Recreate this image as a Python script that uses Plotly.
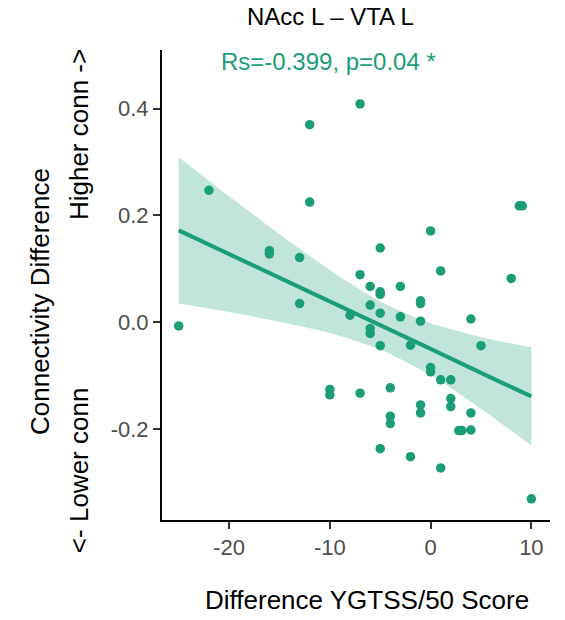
import plotly.graph_objects as go

# difference in YGTSS/50 score vs connectivity difference (NAcc L - VTA L)
ygtss_diff = [
    -25, -22, -16, -16, -13, -13, -12, -12, -10, -10,
    -8, -7, -7, -7, -6, -6, -6, -6, -5, -5,
    -5, -5, -5, -5, -4, -4, -4, -3, -3, -2,
    -2, -1, -1, -1, -1, -1, 0, 0, 0, 1,
    1, 1, 2, 2, 2, 2.8, 3.1, 4, 4, 4,
    5, 8, 8.8, 9.1, 10,
]
conn_diff = [
    -0.007, 0.247, 0.134, 0.128, 0.121, 0.035, 0.370, 0.225, -0.126, -0.136,
    0.013, 0.409, 0.089, -0.133, 0.067, 0.032, -0.012, -0.021, 0.139, 0.057,
    0.052, 0.017, -0.044, -0.237, -0.123, -0.176, -0.190, 0.067, 0.010, -0.043,
    -0.252, 0.040, 0.035, 0.002, -0.155, -0.170, 0.171, -0.085, -0.093, 0.096,
    -0.108, -0.273, -0.108, -0.143, -0.158, -0.203, -0.203, 0.006, -0.170, -0.202,
    -0.044, 0.082, 0.218, 0.218, -0.331,
]

# linear fit and its 95% band
fit_x = [-25, -20, -15, -10, -5, 0, 5, 10]
fit_y = [0.172, 0.128, 0.083, 0.039, -0.006, -0.050, -0.095, -0.139]
band_upper = [0.309, 0.236, 0.165, 0.098, 0.039, -0.002, -0.028, -0.047]
band_lower = [0.035, 0.019, 0.001, -0.020, -0.051, -0.099, -0.162, -0.231]

x_ticks = [-20, -10, 0, 10]
x_tick_labels = ["-20", "-10", "0", "10"]
y_ticks = [-0.2, 0.0, 0.2, 0.4]
y_tick_labels = ["-0.2", "0.0", "0.2", "0.4"]

GREEN = "#1b9e77"
FONT = "Liberation Sans, Arial, sans-serif"

fig = go.Figure()

fig.add_trace(go.Scatter(
    x=ygtss_diff, y=conn_diff, mode="markers",
    marker=dict(color=GREEN, size=9.5, line=dict(width=0)),
    showlegend=False, hoverinfo="skip",
))
# confidence ribbon drawn over the points, like geom_smooth
fig.add_trace(go.Scatter(
    x=fit_x, y=band_upper, mode="lines",
    line=dict(width=0, shape="spline", smoothing=0.6),
    showlegend=False, hoverinfo="skip",
))
fig.add_trace(go.Scatter(
    x=fit_x, y=band_lower, mode="lines",
    line=dict(width=0, shape="spline", smoothing=0.6),
    fill="tonexty", fillcolor="rgba(27,158,119,0.27)",
    showlegend=False, hoverinfo="skip",
))
fig.add_trace(go.Scatter(
    x=fit_x, y=fit_y, mode="lines",
    line=dict(color=GREEN, width=4),
    showlegend=False, hoverinfo="skip",
))

axis_common = dict(
    showgrid=False, zeroline=False,
    showline=True, linecolor="black", linewidth=2,
    ticks="outside", ticklen=7, tickwidth=2, tickcolor="#333333",
    tickfont=dict(family=FONT, size=22, color="#4d4d4d"),
)

fig.update_layout(
    width=565, height=620,
    margin=dict(l=162, r=15, t=50, b=100),
    plot_bgcolor="white", paper_bgcolor="white",
    font=dict(family=FONT, color="black"),
    xaxis=dict(range=[-26.66, 11.85], tickvals=x_ticks, ticktext=x_tick_labels,
               **axis_common),
    yaxis=dict(range=[-0.3706, 0.51], tickvals=y_ticks, ticktext=y_tick_labels,
               **axis_common),
    annotations=[
        dict(text="NAcc L \u2013 VTA L", xref="paper", yref="paper",
             x=0.433, y=1.072, showarrow=False, xanchor="center", yanchor="middle",
             font=dict(size=24, color="black")),
        dict(text="Rs=-0.399, p=0.04 *", xref="paper", yref="paper",
             x=0.430, y=0.975, showarrow=False, xanchor="center", yanchor="middle",
             font=dict(size=24, color=GREEN)),
        dict(text="Difference YGTSS/50 Score", xref="paper", yref="paper",
             x=0.5296, y=-0.17, showarrow=False, xanchor="center", yanchor="middle",
             font=dict(size=26, color="black")),
        dict(text="Connectivity Difference", xref="paper", yref="paper",
             x=-0.3144, y=0.4638, showarrow=False, textangle=-90,
             xanchor="center", yanchor="middle",
             font=dict(size=26, color="black")),
        dict(text="Higher conn ->", xref="paper", yref="paper",
             x=-0.2139, y=0.819, showarrow=False, textangle=-90,
             xanchor="center", yanchor="middle",
             font=dict(size=26, color="black")),
        dict(text="<- Lower conn", xref="paper", yref="paper",
             x=-0.2139, y=0.104, showarrow=False, textangle=-90,
             xanchor="center", yanchor="middle",
             font=dict(size=26, color="black")),
    ],
)

# drop the browser's default 8px body margin so the figure sits at 0,0
fig.write_html("out.html", config={"displayModeBar": False},
               post_script="document.body.style.margin='0';")
